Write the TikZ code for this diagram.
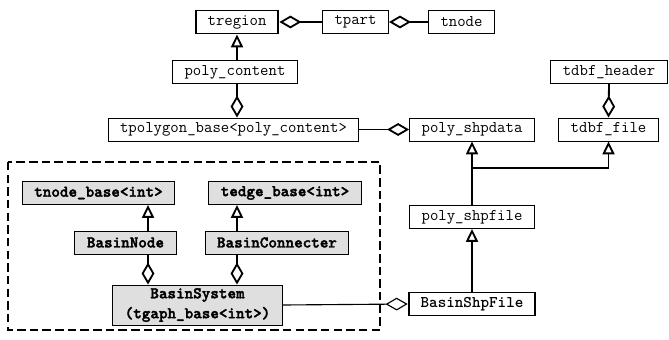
\documentclass[tikz,border=0pt]{standalone}
\usepackage{fontspec}
\newfontfamily\heavytt{lmmonolt10-bold.otf}[FakeBold=2]
\usetikzlibrary{arrows.meta}

\begin{document}
\begin{tikzpicture}[x=0.025cm,y=-0.025cm,
  cls/.style={draw,line width=0.7pt,font=\ttfamily\fontsize{11.6}{14.2}\selectfont,
    inner xsep=0.3cm,inner ysep=0pt,minimum height=0.575cm},
  clsthick/.style={cls,line width=1.4pt},
  clsbase/.style={cls,fill=gray!25,font=\heavytt\fontsize{11.6}{14.2}\selectfont},
  inherit/.style={-{Triangle[open,length=0.32cm,width=0.3cm]},line width=1.3pt},
  aggr/.style={{Diamond[open,length=0.55cm,width=0.32cm]}-,line width=1.3pt}]

\useasboundingbox (0,0) rectangle (669,340);

% Region classes
\node[clsthick] (tregion) at (237,22) {tregion};
\node[cls] (tpart) at (355.5,22) {tpart};
\node[cls] (tnode) at (461.5,22) {tnode};
\node[cls] (polycontent) at (235,72) {poly\_content};
\node[cls] (tpolygon) at (233.5,129.5) {tpolygon\_base<poly\_content>};

% Shape file classes
\node[cls] (tdbfheader) at (609,72) {tdbf\_header};
\node[cls] (shpdata) at (472,129.5) {poly\_shpdata};
\node[cls] (tdbffile) at (608.5,129.5) {tdbf\_file};
\node[cls] (shpfile) at (472,217) {poly\_shpfile};
\node[clsthick,font=\ttfamily\bfseries\fontsize{11.6}{14.2}\selectfont] (basinshp) at (472,304) {BasinShpFile};
\coordinate (junc) at (472,168);

% Graph classes (dashed group)
\draw[line width=1.3pt,dash pattern=on 6pt off 3pt] (8,162) rectangle (380,330);
\node[clsbase] (tnodebase) at (98.5,193) {tnode\_base<int>};
\node[clsbase] (tedgebase) at (285,193) {tedge\_base<int>};
\node[clsbase] (basinnode) at (125.5,242.5) {BasinNode};
\node[clsbase] (basinconn) at (277,242.5) {BasinConnecter};
\node[clsbase,align=center,minimum height=1cm] (basinsys) at (197.5,305) {BasinSystem\\(tgaph\_base<int>)};

% Aggregations
\draw[aggr] (tregion.east) -- (tpart.west);
\draw[aggr] (tpart.east) -- (tnode.west);
\draw[aggr] (tpolygon.north -| tregion.south) -- (polycontent.south -| tregion.south);
\draw[aggr] (shpdata.west) -- (tpolygon.east);
\draw[aggr] (tdbffile.north) -- (tdbfheader.south);
\draw[aggr] ([xshift=0.5625cm]basinnode.south |- basinsys.north) -- ([xshift=0.5625cm]basinnode.south);
\draw[aggr] ([xshift=-1cm]basinconn.south |- basinsys.north) -- ([xshift=-1cm]basinconn.south);
\draw[aggr,line width=0.8pt] (basinshp.west) -- (basinsys.east);

% Inheritance
\draw[inherit] (polycontent.north -| tregion.south) -- (tregion.south);
\draw[line width=1.3pt] (shpfile.north) -- (junc);
\draw[inherit] (junc) -- (shpdata.south);
\draw[inherit] (junc) -| (tdbffile.south);
\draw[inherit] (basinshp.north) -- (shpfile.south);
\draw[inherit] ([xshift=0.5625cm]basinnode.north) -- ([xshift=0.5625cm]basinnode.north |- tnodebase.south);
\draw[inherit] ([xshift=-1cm]basinconn.north) -- ([xshift=-1cm]basinconn.north |- tedgebase.south);

\end{tikzpicture}
\end{document}
